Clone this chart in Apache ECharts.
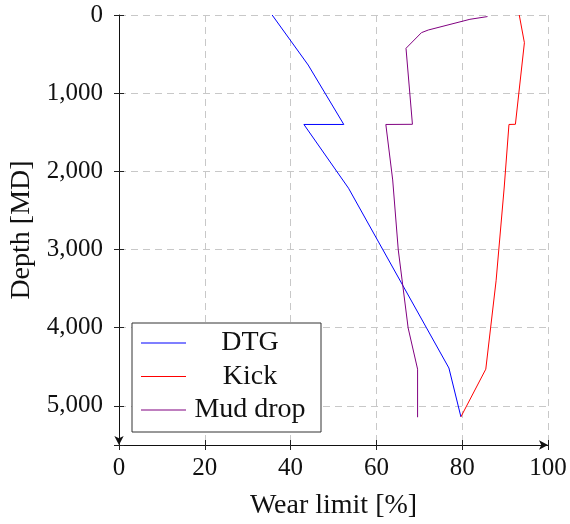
<!DOCTYPE html>
<html>
<head>
<meta charset="utf-8">
<script src="https://cdn.jsdelivr.net/npm/echarts@6/dist/echarts.min.js"></script>
<style>
  html, body { margin: 0; padding: 0; background: #fff; }
  #chart { width: 570px; height: 524px; }
</style>
</head>
<body>
<div id="chart"></div>
<script>
// [wear limit %, depth MD]
var dtg = [[35.7, 0], [44.1, 640], [52.4, 1400], [43.1, 1400], [53.5, 2215],
           [76.9, 4515], [77.3, 4500], [76.9, 4530], [79.7, 5140]];
var kick = [[93.3, 0], [94.5, 355], [92.4, 1398], [90.9, 1400], [89.8, 2200],
            [87.9, 3400], [85.5, 4530], [79.7, 5140]];
var mudDrop = [[85.9, 20], [81.8, 55], [72.1, 192], [70.5, 226], [66.9, 426],
               [68.4, 1398], [62.2, 1400], [63.8, 2110], [65.1, 3005], [67.4, 4003],
               [69.6, 4530], [69.6, 5145]];
var seriesNames = ['DTG', 'Kick', 'Mud drop'];
var seriesColors = ['#0000ff', '#ff0000', '#800080'];

var font = '"Liberation Serif", "DejaVu Serif", serif';
var chart = echarts.init(document.getElementById('chart'));

function mk(name, data, color) {
  return {
    name: name, type: 'line', data: data,
    showSymbol: false, symbol: 'none',
    lineStyle: { color: color, width: 1 },
    itemStyle: { color: color },
    animation: false
  };
}

var dash = { show: true, lineStyle: { color: '#c8c8c8', type: [7, 5] } };
var tickStyle = { color: '#222' };

chart.setOption({
  animation: false,
  grid: { left: 119, right: 22, top: 15, bottom: 79, outerBoundsMode: 'none' },
  xAxis: [{
    type: 'value', min: 0, max: 100, interval: 20, position: 'bottom',
    name: 'Wear limit [%]', nameLocation: 'middle', nameGap: 47,
    nameTextStyle: { fontFamily: font, fontSize: 28, color: '#111' },
    axisLine: { show: true, onZero: false, lineStyle: { color: '#111', width: 1 },
                symbol: ['none', 'arrow'], symbolSize: [7, 9] },
    axisTick: { show: true, length: 5, lineStyle: tickStyle },
    axisLabel: { fontFamily: font, fontSize: 25, color: '#111', margin: 11 },
    splitLine: dash
  }, {
    type: 'value', min: 0, max: 100, interval: 20, position: 'bottom',
    axisLine: { show: false, onZero: false },
    axisTick: { show: true, inside: true, length: 5, lineStyle: tickStyle },
    axisLabel: { show: false }, splitLine: { show: false }
  }],
  yAxis: [{
    type: 'value', inverse: true, min: 0, max: 5500, interval: 1000,
    name: 'Depth [MD]', nameLocation: 'middle', nameGap: 78,
    nameTextStyle: { fontFamily: font, fontSize: 28, color: '#111' },
    axisLine: { show: true, onZero: false, lineStyle: { color: '#111', width: 1 },
                symbol: ['arrow', 'none'], symbolSize: [7, 9] },
    axisTick: { show: true, length: 5, lineStyle: tickStyle },
    axisLabel: {
      fontFamily: font, fontSize: 25, color: '#111', margin: 16,
      formatter: function (v) { return v > 5000 ? '' : v.toLocaleString('en-US'); }
    },
    splitLine: dash
  }, {
    type: 'value', inverse: true, min: 0, max: 5500, interval: 1000, position: 'left',
    axisLine: { show: false, onZero: false },
    axisTick: { show: true, inside: true, length: 5, lineStyle: tickStyle },
    axisLabel: { show: false }, splitLine: { show: false }
  }],
  legend: {
    orient: 'vertical', left: 132, top: 323,
    data: seriesNames,
    icon: 'rect', itemWidth: 45, itemHeight: 1, itemGap: 5.5,
    padding: [6, 12, 8, 9],
    borderColor: '#333', borderWidth: 1, backgroundColor: '#fff',
    textStyle: {
      fontFamily: font, fontSize: 28, color: '#111',
      rich: { t: { width: 118, align: 'center', fontFamily: font, fontSize: 28, lineHeight: 28 } }
    },
    formatter: function (n) { return '{t|' + n + '}'; }
  },
  series: [
    mk(seriesNames[0], dtg, seriesColors[0]),
    mk(seriesNames[1], kick, seriesColors[1]),
    mk(seriesNames[2], mudDrop, seriesColors[2])
  ]
});
</script>
</body>
</html>
